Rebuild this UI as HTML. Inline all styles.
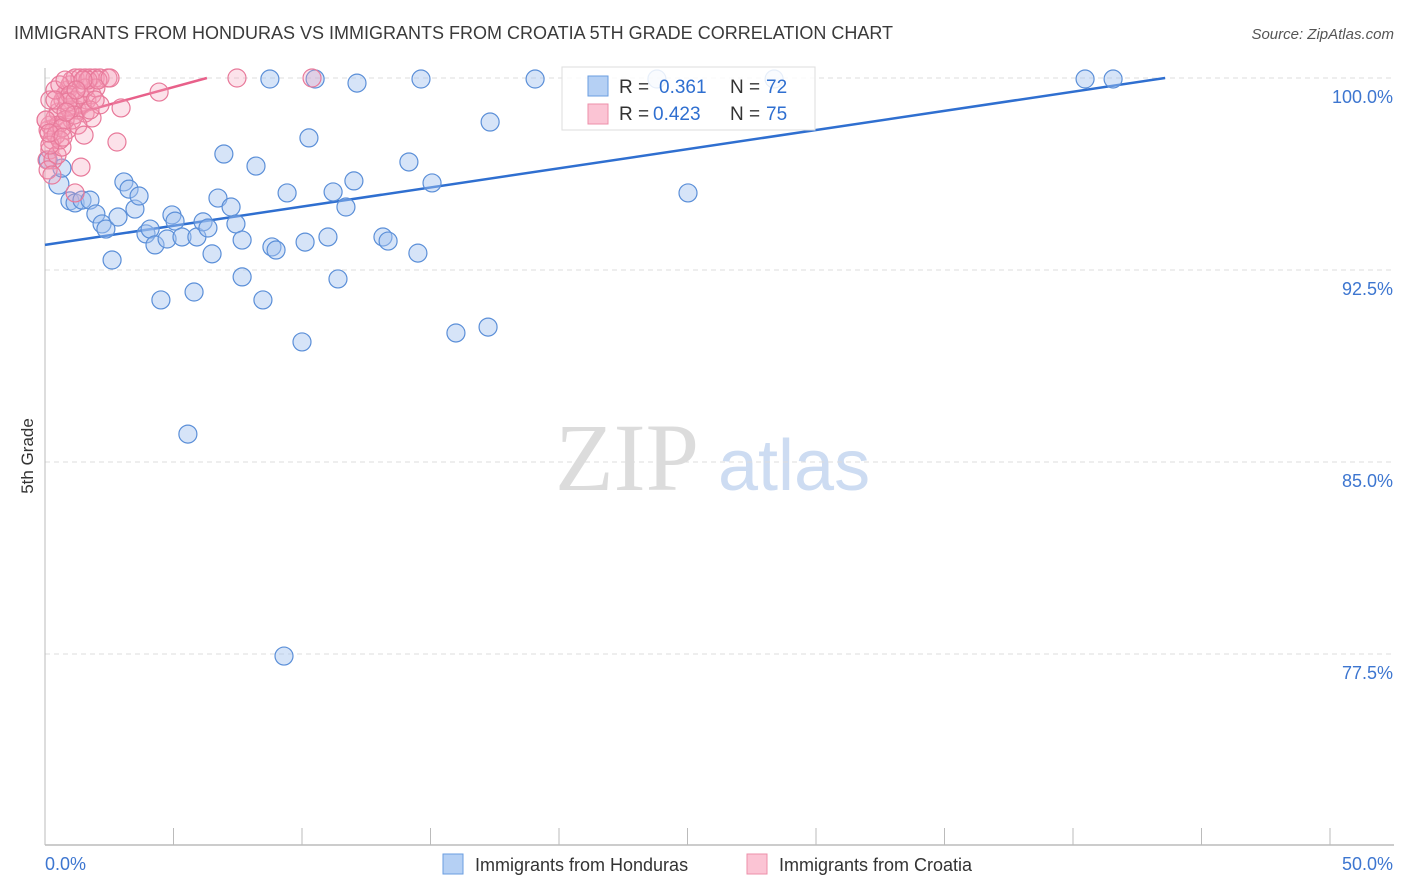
<!DOCTYPE html>
<html><head><meta charset="utf-8"><style>
html,body{margin:0;padding:0;background:#fff;width:1406px;height:892px;overflow:hidden;font-family:"Liberation Sans",sans-serif}
</style></head><body>
<svg id="chart" width="1406" height="892" xmlns="http://www.w3.org/2000/svg" font-family="Liberation Sans, sans-serif">
<text x="14" y="39" font-size="18" fill="#3a3a3a">IMMIGRANTS FROM HONDURAS VS IMMIGRANTS FROM CROATIA 5TH GRADE CORRELATION CHART</text>
<text x="1394" y="39" font-size="15" fill="#555" text-anchor="end" font-style="italic">Source: ZipAtlas.com</text>
<text transform="translate(33,456) rotate(-90)" font-size="17" fill="#333" text-anchor="middle">5th Grade</text>
<g>
<text x="555" y="490" font-size="96" fill="#dcdcdc" font-family="Liberation Serif, serif">ZIP</text>
<text x="718" y="490" font-size="72" fill="#cddcf2">atlas</text>
</g>
<g id="grid"></g><g id="axes"></g>
<g id="trend"></g>
<g id="pts"></g>
<g>
<rect x="562" y="67" width="253" height="63" fill="#fff" fill-opacity="0.85" stroke="#ddd"/>
<rect x="588" y="76" width="20" height="20" fill="#b5d0f4" stroke="#6a9ee0"/>
<rect x="588" y="104" width="20" height="20" fill="#fbc4d4" stroke="#ec8faa"/>
<text x="619" y="93" font-size="19" fill="#333">R = </text><text x="659" y="93" font-size="19" fill="#2f6fd0">0.361</text>
<text x="730" y="93" font-size="19" fill="#333">N = </text><text x="766" y="93" font-size="19" fill="#2f6fd0">72</text>
<text x="619" y="120" font-size="19" fill="#333">R = </text><text x="653" y="120" font-size="19" fill="#2f6fd0">0.423</text>
<text x="730" y="120" font-size="19" fill="#333">N = </text><text x="766" y="120" font-size="19" fill="#2f6fd0">75</text>
</g>
<g>
<rect x="443" y="854" width="20" height="20" fill="#b5d0f4" stroke="#6a9ee0"/>
<text x="475" y="871" font-size="18" fill="#333">Immigrants from Honduras</text>
<rect x="747" y="854" width="20" height="20" fill="#fbc4d4" stroke="#ec8faa"/>
<text x="779" y="871" font-size="18" fill="#333">Immigrants from Croatia</text>
</g>
</svg>
<script>
const xTicks=[0,5,10,15,20,25,30,35,40,45,50];
const xTickLabels=["0.0%","50.0%"];
const yTicks=[100,92.5,85,77.5];
const yTickLabels=["100.0%","92.5%","85.0%","77.5%"];
const hondX=[0.54,0.66,0.12,0.97,1.17,1.44,1.75,1.98,2.22,2.37,2.61,2.84,3.07,3.27,3.5,3.66,3.93,4.09,4.28,4.51,4.75,4.94,5.06,5.33,5.56,5.8,5.91,6.15,6.34,6.5,6.73,6.96,7.24,7.43,7.67,7.67,8.21,8.48,8.75,8.83,8.99,9.3,9.42,10.0,10.12,10.27,10.51,11.01,11.21,11.4,11.71,12.02,12.14,13.15,13.35,14.16,14.51,14.63,15.06,15.99,17.24,17.32,19.07,23.81,25.02,28.37,40.47,41.56];
const hondY=[95.86,96.48,96.8,95.2,95.12,95.23,95.23,94.69,94.3,94.1,92.89,94.57,95.94,95.66,94.88,95.39,93.91,94.1,93.48,91.33,93.71,94.65,94.41,93.79,86.09,91.64,93.79,94.38,94.14,93.13,95.31,97.03,94.96,94.3,93.67,92.23,96.56,91.33,99.96,93.4,93.28,77.42,95.51,89.69,93.59,97.66,99.96,93.79,95.55,92.15,94.96,95.98,99.8,93.79,93.63,96.72,93.16,99.96,95.9,90.04,90.27,98.28,99.96,99.96,95.51,99.96,99.96,99.96];
const croX=[0.12,0.19,0.27,0.39,0.51,0.58,0.7,0.78,0.89,0.97,1.05,1.17,1.36,1.56,1.75,1.95,2.14,2.45,7.47,10.39,4.44,2.96,2.8,1.4,1.17,0.19,0.08,0.31,0.47,0.66,0.86,1.05,1.25,1.44,1.63,1.83,1.98,1.56,1.83,2.14,0.97,0.78,0.51,0.31,0.04,0.19,0.39,0.58,0.78,0.97,1.17,1.36,1.56,1.67,2.06,0.12,0.27,0.43,0.66,0.89,1.13,1.28,1.52,0.58,0.19,0.39,1.75,1.95,2.53,1.48,1.21,0.82,0.04,0.16,0.7];
const croY=[97.97,98.16,97.58,98.44,98.67,98.95,99.14,99.34,99.53,99.73,99.92,100,100,100,100,100,100,100,100,100,99.45,98.83,97.5,96.52,95.51,97.19,96.8,96.8,96.99,97.3,97.97,98.36,98.75,98.95,99.14,99.34,99.61,98.63,98.44,98.95,98.75,98.36,98.16,97.89,98.36,99.14,99.53,99.73,99.92,99.34,99.14,99.34,99.61,99.92,99.92,96.41,96.21,97.77,98.05,99.06,98.55,98.16,97.77,97.58,97.38,99.14,98.75,99.14,100,99.92,99.53,98.67,98.36,97.85,97.69];
const hondTrend=[93.48,0.1496];
const croTrend=[98.28,0.273];
const X=v=>45+v*25.7, Y=v=>78+(100-v)*25.6;
const NS="http://www.w3.org/2000/svg";
function mk(p,t,a){const e=document.createElementNS(NS,t);for(const k in a)e.setAttribute(k,a[k]);p.appendChild(e);return e;}
const grid=document.getElementById('grid'),axes=document.getElementById('axes'),trend=document.getElementById('trend'),pts=document.getElementById('pts');
yTicks.forEach((v,i)=>{
 const l=mk(grid,'line',{x1:45,x2:1394,y1:Y(v),y2:Y(v),stroke:'#ddd','stroke-dasharray':'5,4'});
 
 
 const t=mk(grid,'text',{x:1393,y:Y(v)+25,'font-size':18,fill:'#3d76d0','text-anchor':'end'});t.textContent=yTickLabels[i];
 
 
});
const ax=mk(axes,'line',{x1:45,x2:1394,y1:845,y2:845,stroke:'#bbb','stroke-width':1.5});


const ay=mk(axes,'line',{x1:45,x2:45,y1:68,y2:845,stroke:'#bbb','stroke-width':1});


xTicks.forEach(v=>{const t=mk(axes,'line',{x1:X(v),x2:X(v),y1:828,y2:845,stroke:'#bbb'});
 
 });
[[0,'start'],[50,'end']].forEach((p,i)=>{const t=mk(axes,'text',{x:i?1393:45,y:870,'font-size':18,fill:'#3d76d0','text-anchor':p[1]});t.textContent=xTickLabels[i];
 
 });
hondX.forEach((x,i)=>{const c=mk(pts,'circle',{cx:X(x),cy:Y(hondY[i]),r:i===0?10:9,fill:'rgba(164,196,240,0.45)',stroke:'#5b8fd8','stroke-width':1.2});
 
 });
croX.forEach((x,i)=>{const c=mk(pts,'circle',{cx:X(x),cy:Y(croY[i]),r:9,fill:'rgba(245,160,185,0.3)',stroke:'#e8799a','stroke-width':1.2});
 
 });
const hx=(100-hondTrend[0])/hondTrend[1];
const hl=mk(trend,'line',{x1:X(0),y1:Y(hondTrend[0]),x2:X(hx),y2:Y(100),stroke:'#2f6fd0','stroke-width':2.5});


const cx=(100-croTrend[0])/croTrend[1];
const cl=mk(trend,'line',{x1:X(0),y1:Y(croTrend[0]),x2:X(cx),y2:Y(100),stroke:'#e8608a','stroke-width':2.5});


</script>
</body></html>
